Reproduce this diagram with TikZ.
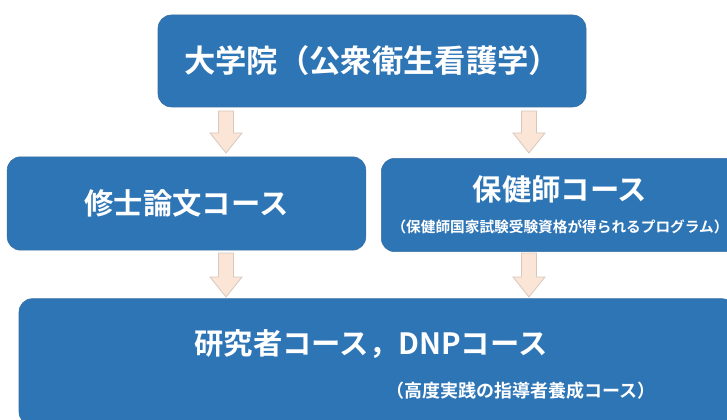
\documentclass[tikz,border=0pt]{standalone}
\usepackage{fontspec}
\setmainfont{Noto Sans CJK JP}[BoldFont={Noto Sans CJK JP Bold}]
\definecolor{boxblue}{HTML}{2E75B6}
\definecolor{boxline}{HTML}{3A6FA0}
\definecolor{arrowfill}{HTML}{FBE5D6}
\definecolor{arrowline}{HTML}{D8C8BE}
\tikzset{
  course/.style={rectangle,rounded corners=10pt,fill=boxblue,draw=boxline,
    text=white,align=center,font=\bfseries\fontsize{22}{26}\selectfont},
  note/.style={text=white,font=\bfseries\fontsize{13.5}{16}\selectfont},
  blockarrow/.style={fill=arrowfill,draw=arrowline,line width=0.6pt}
}
\begin{document}
\begin{tikzpicture}[x=0.75pt,y=-0.75pt]
\clip (0,0) rectangle (727,420);
\node[course,minimum width=321pt,minimum height=69pt,font=\bfseries\fontsize{23.5}{27}\selectfont](grad) at (372,61){大学院（公衆衛生看護学）};
\node[course,minimum width=269pt,minimum height=70pt](thesis) at (186.5,203.5){修士論文コース};
\node[course,minimum width=268pt,minimum height=70pt](phn) at (560,205){保健師コース\\[-2pt]{\fontsize{11}{13}\selectfont （保健師国家試験受験資格が得られるプログラム）}};
\node[course,minimum width=537pt,minimum height=95pt](doctor) at (377,362){};
\node[course,draw=none,fill=none](dnp) at (371,344){研究者コース，DNPコース};
\node[note](dnpnote) at (521,391){（高度実践の指導者養成コース）};
% arrows between the levels
\foreach \c in {226,529}
  \foreach \t/\h/\p in {111/133/153,253/277/297}
    \draw[blockarrow] (\c-7.5,\t)--(\c+7.5,\t)--(\c+7.5,\h)--(\c+16,\h)--(\c,\p)--(\c-16,\h)--(\c-7.5,\h)--cycle;
\end{tikzpicture}
\end{document}
